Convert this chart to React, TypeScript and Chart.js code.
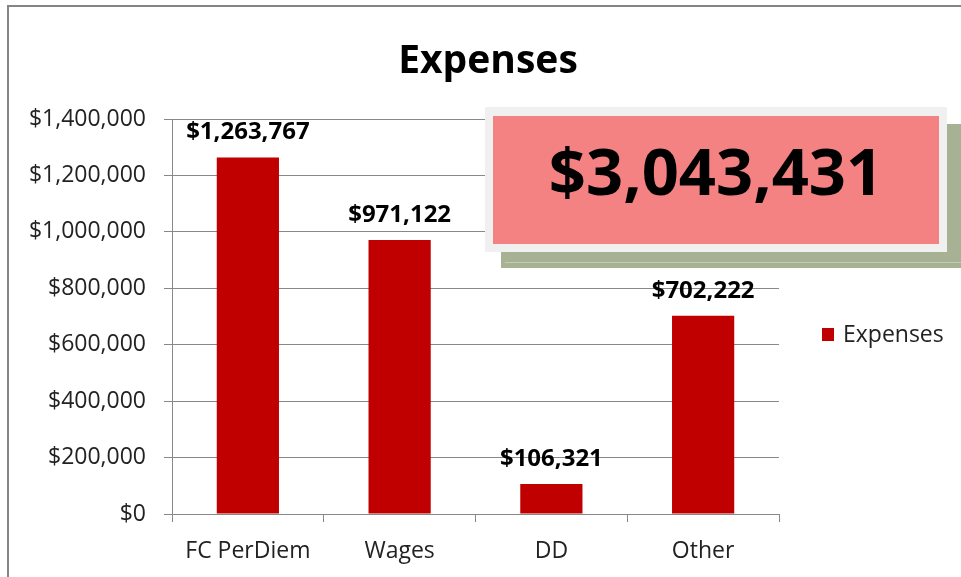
import React, { useEffect, useRef } from "react";
import { Chart, registerables } from "chart.js";

Chart.register(...registerables);

const categories = ["FC PerDiem", "Wages", "DD", "Other"];
const expenses = [1263767, 971122, 106321, 702222];
const seriesName = "Expenses";
const titleText = "Expenses";
const totalText = "$3,043,431";
const yMin = 0;
const yMax = 1400000;
const yStep = 200000;

const FONT = "'Open Sans', 'Liberation Sans', sans-serif";
const BAR = "#C00000";

const fmt = (v: number) => "$" + String(Math.round(v)).replace(/\B(?=(\d{3})+(?!\d))/g, ",");

const valueLabels = {
  id: "valueLabels",
  afterDatasetsDraw(chart: any) {
    const ctx = chart.ctx;
    const meta = chart.getDatasetMeta(0);
    ctx.save();
    ctx.font = `bold 24px ${FONT}`;
    ctx.fillStyle = "#000";
    ctx.textAlign = "center";
    ctx.textBaseline = "middle";
    meta.data.forEach((bar: any, i: number) => {
      ctx.fillText(fmt(expenses[i]), bar.x, bar.y - 25);
    });
    ctx.restore();
  },
};

export default function App() {
  const ref = useRef<HTMLCanvasElement | null>(null);

  useEffect(() => {
    if (!ref.current) return;
    const chart = new Chart(ref.current, {
      type: "bar",
      data: {
        labels: categories,
        datasets: [
          {
            label: seriesName,
            data: expenses,
            backgroundColor: BAR,
            borderWidth: 0,
            categoryPercentage: 1,
            barPercentage: 0.41,
          },
        ],
      },
      options: {
        responsive: false,
        animation: false,
        devicePixelRatio: 1,
        layout: { padding: { left: 0, right: 0, top: 0, bottom: 0 } },
        plugins: {
          legend: { display: false },
          tooltip: { enabled: false },
          title: {
            display: true,
            text: titleText,
            color: "#000",
            font: { family: FONT, size: 39, weight: "bold" },
            padding: { top: 33, bottom: 34.2 },
          },
        },
        scales: {
          x: {
            grid: { drawOnChartArea: false, drawTicks: true, tickLength: 8, color: "#888", offset: true },
            border: { color: "#888" },
            ticks: { font: { family: FONT, size: 23 }, color: "#222", padding: 16 },
            afterFit: (s: any) => {
              s.height = 63;
            },
          },
          y: {
            min: yMin,
            max: yMax,
            grid: { color: "#888", tickLength: 8 },
            border: { color: "#888" },
            ticks: {
              stepSize: yStep,
              font: { family: FONT, size: 23 },
              color: "#222",
              padding: 18,
              callback: (v: any) => fmt(Number(v)),
            },
            afterFit: (s: any) => {
              s.width = 165;
            },
          },
          legendSpace: {
            type: "linear",
            position: "right",
            display: true,
            grid: { display: false, drawTicks: false },
            border: { display: false },
            ticks: { display: false },
            afterFit: (s: any) => {
              s.width = 190;
            },
          },
        },
      },
      plugins: [valueLabels],
    });
    return () => chart.destroy();
  }, []);

  return (
    <div
      style={{
        position: "fixed",
        left: 0,
        top: 0,
        width: 961,
        height: 577,
        overflow: "hidden",
        background: "#fff",
        fontFamily: FONT,
      }}
    >
      <div
        style={{
          position: "absolute",
          left: 7,
          top: 5,
          width: 1000,
          height: 1000,
          border: "2px solid #858585",
        }}
      />
      <canvas
        ref={ref}
        width={962}
        height={572}
        style={{ position: "absolute", left: 7, top: 5, width: 962, height: 572 }}
      />
      {/* legend */}
      <div style={{ position: "absolute", left: 822, top: 328, width: 12, height: 13, background: BAR }} />
      <div
        style={{
          position: "absolute",
          left: 843,
          top: 322,
          fontSize: 23,
          lineHeight: "23px",
          color: "#222",
          whiteSpace: "nowrap",
        }}
      >
        {seriesName}
      </div>
      {/* total box */}
      <div style={{ position: "absolute", left: 501, top: 124, width: 480, height: 144, background: "#A7B194" }}>
        <div style={{ position: "absolute", left: 4, right: 0, top: 138, height: 1, background: "#C3CAB5" }} />
      </div>
      <div style={{ position: "absolute", left: 485, top: 107, width: 462, height: 145, background: "#F0F0F0" }} />
      <div style={{ position: "absolute", left: 493, top: 116, width: 446, height: 128, background: "#F48282" }}>
        <div
          style={{
            position: "absolute",
            left: 0,
            right: 0,
            top: 22,
            textAlign: "center",
            fontSize: 65,
            lineHeight: "65px",
            fontWeight: "bold",
            color: "#000",
            whiteSpace: "nowrap",
          }}
        >
          {totalText}
        </div>
      </div>
    </div>
  );
}
